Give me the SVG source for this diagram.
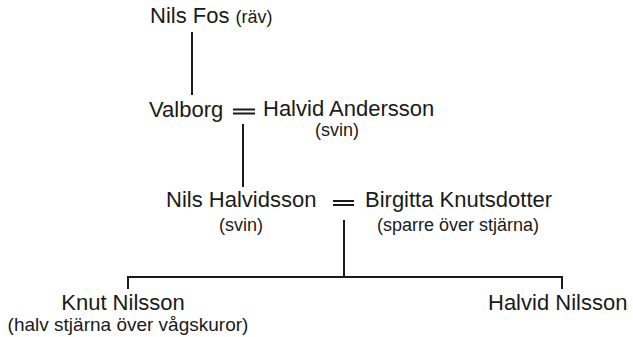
<svg xmlns="http://www.w3.org/2000/svg" width="633" height="337" viewBox="0 0 633 337">
<style>
.n{font-family:"Liberation Sans",Arial,sans-serif;font-size:22px;fill:#1a1a1a}
.s{font-family:"Liberation Sans",Arial,sans-serif;font-size:18px;fill:#1a1a1a}
.c{stroke:#1a1a1a;stroke-width:2;fill:none}
</style>
<rect width="633" height="337" fill="#fff"/>
<g id="connectors" class="c">
<path d="M192 32V95"/>
<path d="M233 109.5H255M233 113.5H255"/>
<path d="M243 124V187"/>
<path d="M333 201H354M333 205H354"/>
<path d="M344 220V277"/>
<path d="M128 289V277H562V289"/>
</g>
<g id="nils-fos">
<text class="n" x="150" y="23">Nils Fos <tspan class="s">(räv)</tspan></text>
</g>
<g id="valborg">
<text class="n" x="149" y="117">Valborg</text>
</g>
<g id="halvid-andersson">
<text class="n" x="263" y="116">Halvid Andersson</text>
<text class="s" x="315" y="136">(svin)</text>
</g>
<g id="nils-halvidsson">
<text class="n" x="166" y="207">Nils Halvidsson</text>
<text class="s" x="219" y="231">(svin)</text>
</g>
<g id="birgitta-knutsdotter">
<text class="n" x="365" y="207">Birgitta Knutsdotter</text>
<text class="s" x="377" y="231">(sparre över stjärna)</text>
</g>
<g id="knut-nilsson">
<text class="n" x="123" y="310" text-anchor="middle">Knut Nilsson</text>
<text class="s" x="128" y="331" text-anchor="middle" style="font-size:19px">(halv stjärna över vågskuror)</text>
</g>
<g id="halvid-nilsson">
<text class="n" x="488" y="310">Halvid Nilsson</text>
</g>
</svg>
